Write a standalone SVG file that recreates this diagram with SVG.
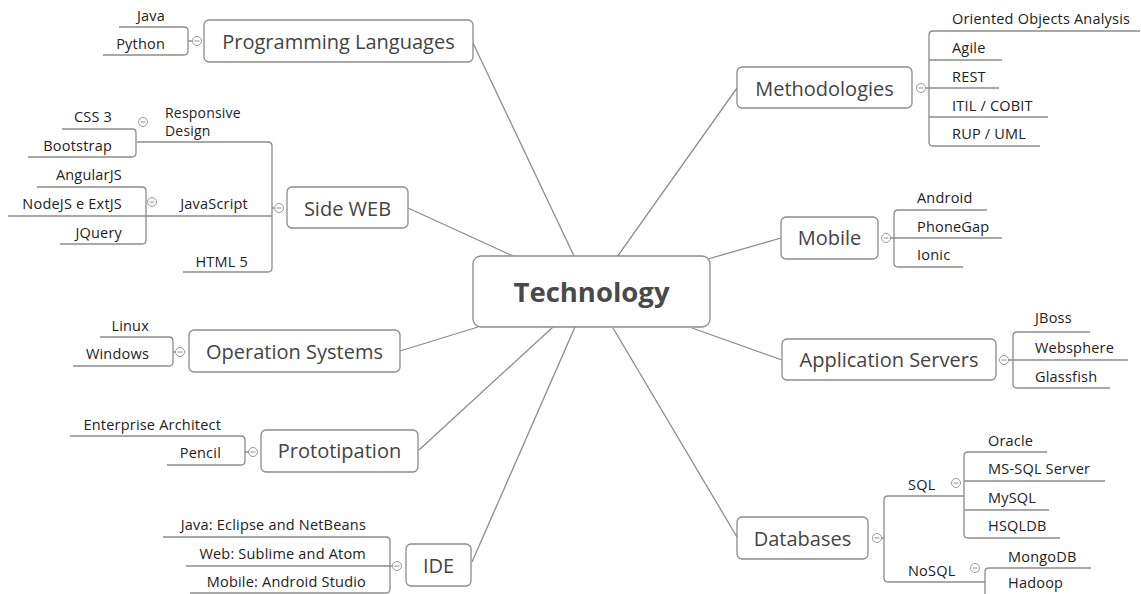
<svg xmlns="http://www.w3.org/2000/svg" width="1141" height="594" viewBox="0 0 1141 594">
<defs>
<style>
.box{fill:#fff;stroke:#8c8c8c;stroke-width:1.3}
.ln{fill:none;stroke:#8c8c8c;stroke-width:1.3}
.t1{font-family:"Open Sans",sans-serif;font-size:20px;fill:#444;text-anchor:middle}
.t0{font-family:"Open Sans",sans-serif;font-size:27.5px;font-weight:bold;fill:#4a4a4a;text-anchor:middle}
.t2{font-family:"Open Sans",sans-serif;font-size:14.5px;letter-spacing:0.2px;fill:#222}
.e{text-anchor:end}
.cc{fill:#fff;stroke:#9a9a9a;stroke-width:1}
.cm{stroke:#7d95b5;stroke-width:1}
</style>
<g id="col"><circle class="cc" cx="0" cy="0" r="4.5"/><line class="cm" x1="-2.5" y1="0" x2="2.5" y2="0"/></g>
</defs>
<rect width="1141" height="594" fill="#fff"/>

<g id="connectors">
<path class="ln" d="M473,43 L574,256"/>
<path class="ln" d="M408,208 L513,256"/>
<path class="ln" d="M400,351 L478,327"/>
<path class="ln" d="M419,450 L553,327"/>
<path class="ln" d="M472,562 L575,327"/>
<path class="ln" d="M617,257 L737,88"/>
<path class="ln" d="M708,259 L781,238"/>
<path class="ln" d="M692,328 L782,360"/>
<path class="ln" d="M613,328 L737,537"/>
<path class="ln" d="M119,27 H184 Q188,27 188,31 V51 Q188,55 184,55 H103 M188,41 H193"/>
<path class="ln" d="M137,142 H268 Q272,142 272,146 V268 Q272,272 268,272 H183 M272,208 H275 M8,216 H272"/>
<path class="ln" d="M62,129 H132 Q136,129 136,133 V153 Q136,157 132,157 H28"/>
<path class="ln" d="M37,187 H142 Q146,187 146,191 V240 Q146,244 142,244 H60"/>
<path class="ln" d="M100,337 H169 Q173,337 173,341 V362 Q173,366 169,366 H73 M173,352 H176"/>
<path class="ln" d="M70,436 H241 Q245,436 245,440 V461 Q245,465 241,465 H167 M245,452 H249"/>
<path class="ln" d="M163,537 H386 Q390,537 390,541 V589 Q390,593 386,593 H190 M186,566 H393"/>
<path class="ln" d="M1140,31 H933 Q929,31 929,35 V142 Q929,146 933,146 H1040 M929,60 H1002 M925,88 H999 M929,117 H1048"/>
<path class="ln" d="M987,210 H898 Q894,210 894,214 V263 Q894,267 898,267 H963 M890,238 H1002"/>
<path class="ln" d="M1090,332 H1017 Q1013,332 1013,336 V384 Q1013,388 1017,388 H1110 M1008,360 H1128"/>
<path class="ln" d="M964,496 H888 Q884,496 884,500 V578 Q884,582 888,582 H985 M881,538 H884"/>
<path class="ln" d="M1047,452 H968 Q964,452 964,456 V534 Q964,538 968,538 H1060 M964,481 H1105 M964,510 H1049"/>
<path class="ln" d="M1091,568 H989 Q985,568 985,572 V600"/>
</g>

<g id="technology">
<rect class="box" x="473" y="256" width="237" height="71" rx="8"/>
<text class="t0" x="591.5" y="302">Technology</text>
</g>

<g id="programming-languages">
<rect class="box" x="204" y="20" width="269" height="42" rx="5"/>
<text class="t1" x="338.5" y="49">Programming Languages</text>
<use href="#col" x="197" y="41"/>
<text class="t2 e" x="165" y="21">Java</text>
<text class="t2 e" x="165" y="49">Python</text>
</g>

<g id="side-web">
<rect class="box" x="287" y="187" width="121" height="41" rx="5"/>
<text class="t1" x="347.5" y="216">Side WEB</text>
<use href="#col" x="279" y="208"/>
<text class="t2" x="165" y="118" style="font-size:14px">Responsive</text>
<text class="t2" x="165" y="136" style="font-size:14px">Design</text>
<use href="#col" x="143" y="122"/>
<text class="t2 e" x="112" y="122">CSS 3</text>
<text class="t2 e" x="112" y="151">Bootstrap</text>
<text class="t2 e" x="248" y="209">JavaScript</text>
<use href="#col" x="152" y="202"/>
<text class="t2 e" x="122" y="180">AngularJS</text>
<text class="t2 e" x="122" y="209">NodeJS e ExtJS</text>
<text class="t2 e" x="122" y="238">JQuery</text>
<text class="t2 e" x="248" y="267">HTML 5</text>
</g>

<g id="operation-systems">
<rect class="box" x="189" y="330" width="211" height="42" rx="5"/>
<text class="t1" x="294.5" y="359">Operation Systems</text>
<use href="#col" x="180" y="352"/>
<text class="t2 e" x="149" y="331">Linux</text>
<text class="t2 e" x="149" y="359">Windows</text>
</g>

<g id="prototipation">
<rect class="box" x="261" y="430" width="157" height="42" rx="5"/>
<text class="t1" x="339.5" y="458">Prototipation</text>
<use href="#col" x="253" y="452"/>
<text class="t2 e" x="221" y="430">Enterprise Architect</text>
<text class="t2 e" x="221" y="458">Pencil</text>
</g>

<g id="ide">
<rect class="box" x="406" y="544" width="65" height="42" rx="5"/>
<text class="t1" x="438.5" y="573">IDE</text>
<use href="#col" x="397" y="566"/>
<text class="t2 e" x="366" y="530">Java: Eclipse and NetBeans</text>
<text class="t2 e" x="366" y="559">Web: Sublime and Atom</text>
<text class="t2 e" x="366" y="587">Mobile: Android Studio</text>
</g>

<g id="methodologies">
<rect class="box" x="737" y="67" width="175" height="41" rx="5"/>
<text class="t1" x="824.5" y="96">Methodologies</text>
<use href="#col" x="921" y="88"/>
<text class="t2" x="952" y="24">Oriented Objects Analysis</text>
<text class="t2" x="952" y="53">Agile</text>
<text class="t2" x="952" y="82">REST</text>
<text class="t2" x="952" y="111">ITIL / COBIT</text>
<text class="t2" x="952" y="139">RUP / UML</text>
</g>

<g id="mobile">
<rect class="box" x="781" y="217" width="97" height="42" rx="5"/>
<text class="t1" x="829.5" y="245">Mobile</text>
<use href="#col" x="886" y="238"/>
<text class="t2" x="917" y="203">Android</text>
<text class="t2" x="917" y="232">PhoneGap</text>
<text class="t2" x="917" y="260">Ionic</text>
</g>

<g id="application-servers">
<rect class="box" x="782" y="339" width="214" height="41" rx="5"/>
<text class="t1" x="889" y="367">Application Servers</text>
<use href="#col" x="1004" y="360"/>
<text class="t2" x="1035" y="323">JBoss</text>
<text class="t2" x="1035" y="353">Websphere</text>
<text class="t2" x="1035" y="382">Glassfish</text>
</g>

<g id="databases">
<rect class="box" x="737" y="517" width="131" height="42" rx="5"/>
<text class="t1" x="802.5" y="546">Databases</text>
<use href="#col" x="877" y="538"/>
<text class="t2" x="908" y="490">SQL</text>
<use href="#col" x="956" y="483"/>
<text class="t2" x="988" y="446">Oracle</text>
<text class="t2" x="988" y="474">MS-SQL Server</text>
<text class="t2" x="988" y="503">MySQL</text>
<text class="t2" x="988" y="531">HSQLDB</text>
<text class="t2" x="908" y="576">NoSQL</text>
<use href="#col" x="975" y="568"/>
<text class="t2" x="1008" y="562">MongoDB</text>
<text class="t2" x="1008" y="588">Hadoop</text>
</g>
</svg>
